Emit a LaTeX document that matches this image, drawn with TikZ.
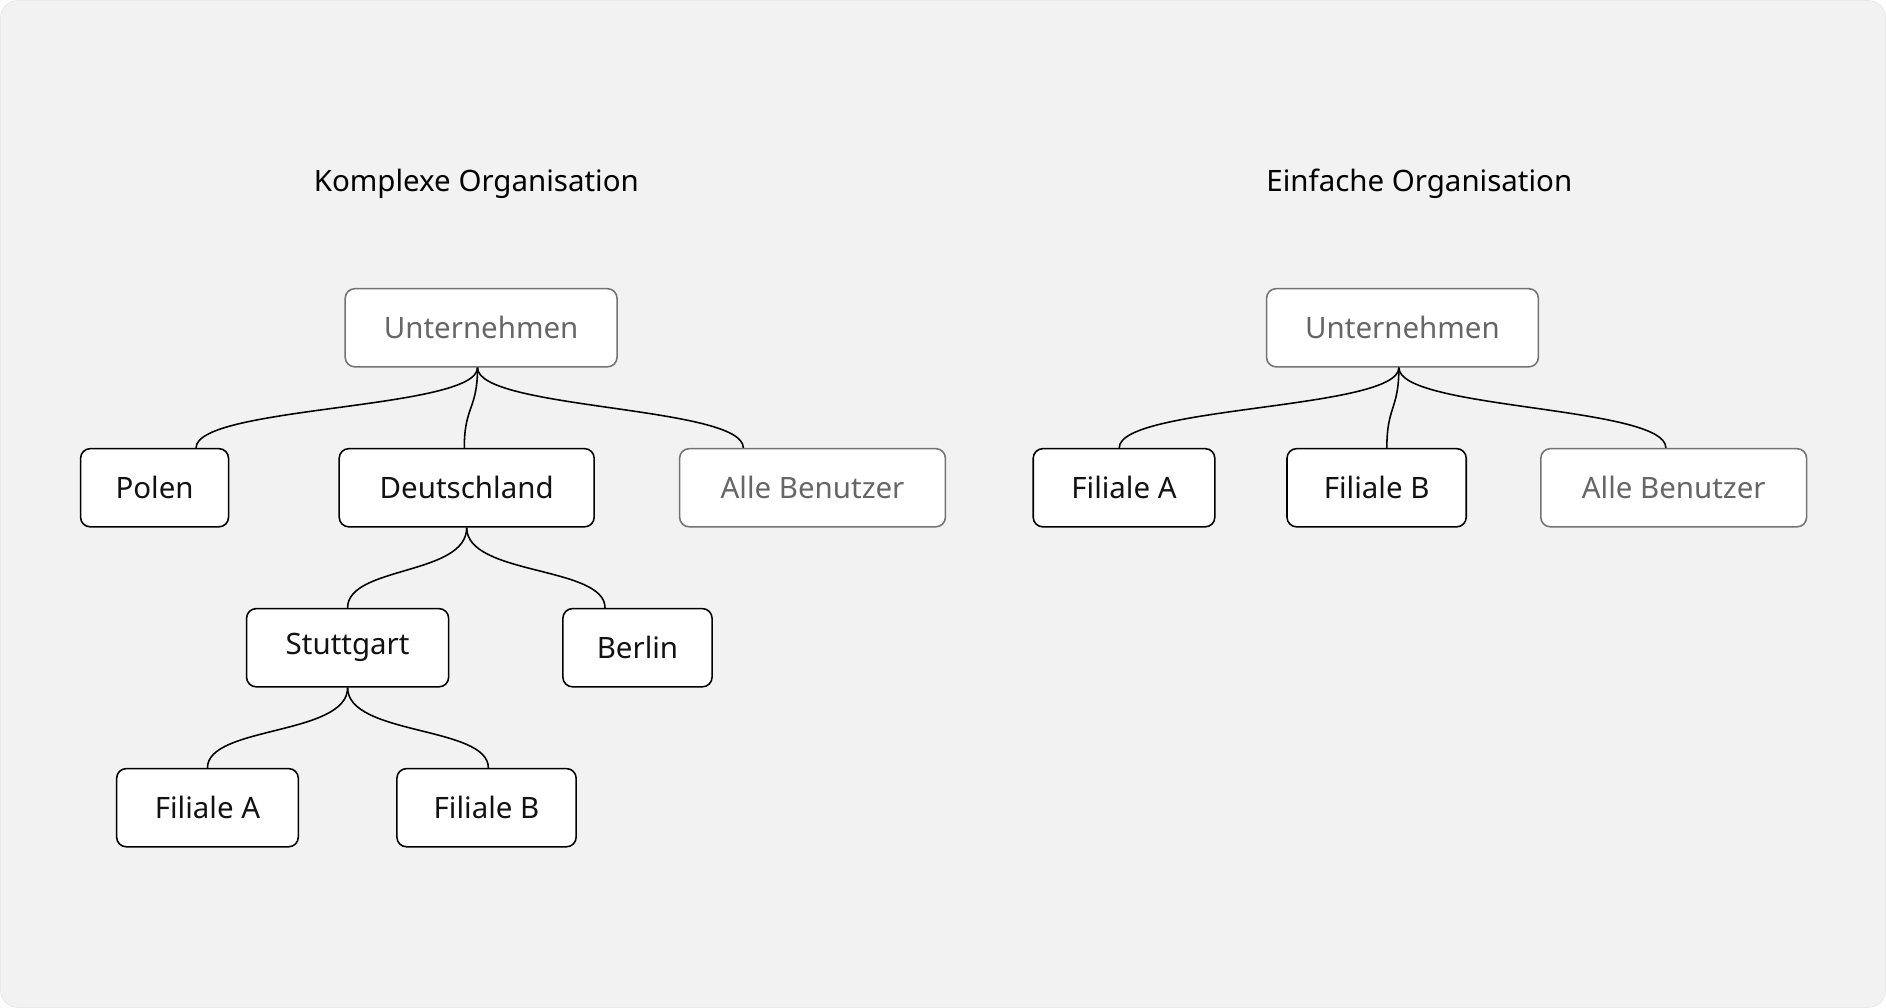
\documentclass[tikz,border=0pt]{standalone}
\usepackage{fontspec}
\setmainfont{Noto Sans}
\begin{document}
\begin{tikzpicture}[x=1pt,y=-1pt,
  box/.style={draw=black,line width=1.3pt,fill=white,rounded corners=8pt,minimum height=65pt,inner sep=0pt,text=black!93,font=\fontsize{24.5}{29}\selectfont},
  gbox/.style={box,draw=black!55,text=black!60},
  ttl/.style={font=\fontsize{24.5}{29}\selectfont,text=black},
  con/.style={line width=1.3pt}]
\fill[black!5,draw=black!12,rounded corners=14pt] (0.5,0.5) rectangle (1567.5,837.5);
\useasboundingbox (0,0) rectangle (1568,838);
\node[ttl] (t1) at (396,153) {Komplexe Organisation};
\node[ttl] (t2) at (1180,153) {Einfache Organisation};
% left
\node[gbox,minimum width=226pt] (u) at (400,272.5) {Unternehmen};
\node[box,minimum width=123pt] (p) at (128.5,405.5) {Polen};
\node[box,minimum width=212pt] (d) at (388,405.5) {Deutschland};
\node[gbox,minimum width=221pt] (a) at (675.5,405.5) {Alle Benutzer};
\node[box,minimum width=168pt] (s) at (289,538.5) {Stuttgart};
\node[box,minimum width=124pt] (b) at (530,538.5) {Berlin};
\node[box,minimum width=151pt] (fa) at (172.5,671.5) {Filiale A};
\node[box,minimum width=149pt] (fb) at (404.5,671.5) {Filiale B};
% right
\node[gbox,minimum width=226pt] (u2) at (1166,272.5) {Unternehmen};
\node[box,minimum width=151pt] (ra) at (934.5,405.5) {Filiale A};
\node[box,minimum width=149pt] (rb) at (1144.5,405.5) {Filiale B};
\node[gbox,minimum width=221pt] (r3) at (1391.5,405.5) {Alle Benutzer};
\coordinate (uo) at ([xshift=-3pt]u.south);
\coordinate (uo2) at ([xshift=-3pt]u2.south);
\draw[con] (uo) .. controls +(0,35) and +(0,-35) .. ([xshift=34.5pt]p.north);
\draw[con] (uo) .. controls +(0,35) and +(0,-35) .. ([xshift=-2pt]d.north);
\draw[con] (uo) .. controls +(0,35) and +(0,-35) .. ([xshift=-57.5pt]a.north);
\draw[con] (d.south) .. controls +(0,40) and +(0,-35) .. (s.north);
\draw[con] (d.south) .. controls +(0,40) and +(0,-35) .. ([xshift=-27pt]b.north);
\draw[con] (s.south) .. controls +(0,40) and +(0,-35) .. (fa.north);
\draw[con] (s.south) .. controls +(0,40) and +(0,-35) .. ([xshift=1.5pt]fb.north);
\draw[con] (uo2) .. controls +(0,35) and +(0,-35) .. ([xshift=-4pt]ra.north);
\draw[con] (uo2) .. controls +(0,35) and +(0,-35) .. ([xshift=8.5pt]rb.north);
\draw[con] (uo2) .. controls +(0,35) and +(0,-35) .. ([xshift=-6.5pt]r3.north);
\end{tikzpicture}
\end{document}
